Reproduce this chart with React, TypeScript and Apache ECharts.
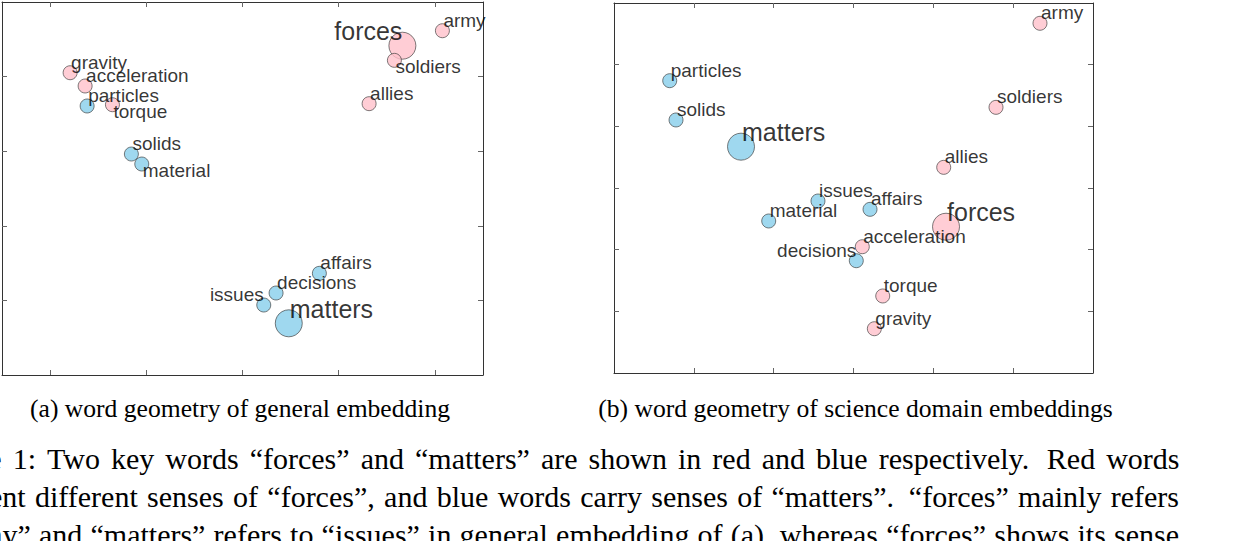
import React, { useEffect, useRef } from "react";
import * as echarts from "echarts";

// ---------------- data ----------------
const words = [
  "forces", "army", "soldiers", "allies", "gravity", "acceleration", "torque",
  "matters", "issues", "decisions", "affairs", "particles", "solids", "material",
];
const senseOf = [
  "forces", "forces", "forces", "forces", "forces", "forces", "forces",
  "matters", "matters", "matters", "matters", "matters", "matters", "matters",
];
const keyWords = ["forces", "matters"];

// (a) general embedding
const generalX = [3.662, 4.078, 3.579, 3.316, 0.208, 0.364, 0.648, 2.481, 2.221, 2.349, 2.799, 0.385, 0.845, 0.953];
const generalY = [4.414, 4.615, 4.218, 3.637, 4.052, 3.874, 3.623, 0.693, 0.938, 1.099, 1.363, 3.606, 2.962, 2.828];
// (b) science domain embeddings
const scienceX = [4.159, 5.336, 4.785, 4.13, 3.261, 3.11, 3.366, 1.591, 2.555, 3.035, 3.207, 0.698, 0.777, 1.938];
const scienceY = [2.372, 5.671, 4.308, 3.335, 0.718, 2.048, 1.249, 3.67, 2.789, 1.821, 2.654, 4.74, 4.103, 2.465];

const generalRangeX = [-0.5, 4.5];
const generalRangeY = [0, 5];
const generalTicksX = [0, 1, 2, 3, 4];
const generalTicksY = [1, 2, 3, 4];
const scienceRangeX = [0, 6];
const scienceRangeY = [0, 6];
const scienceTicksX = [1, 2, 3, 4, 5];
const scienceTicksY = [1, 2, 3, 4, 5];

const captionA = "(a) word geometry of general embedding";
const captionB = "(b) word geometry of science domain embeddings";

const bodyLine1 = ["Figure", "1:", "Two", "key", "words", "“forces”", "and", "“matters”", "are", "shown", "in", "red", "and", "blue", "respectively.", "Red", "words"];
const bodyLine2 = ["represent", "different", "senses", "of", "“forces”,", "and", "blue", "words", "carry", "senses", "of", "“matters”.", "“forces”", "mainly", "refers"];
const bodyLine3 = ["“army”", "and", "“matters”", "refers", "to", "“issues”", "in", "general", "embedding", "of", "(a),", "whereas", "“forces”", "shows", "its", "sense"];

// ---------------- styling (label placement per plot) ----------------
const generalLabelLeft = ["forces", "issues"];
const generalLabelBelow = ["torque", "soldiers", "material"];
const scienceLabelLeft = ["decisions"];
const scienceLabelBelow: string[] = [];

const PINK = "#FFC0CB";
const BLUE = "#87CEEB";
const SANS = "'Liberation Sans', Arial, Helvetica, sans-serif";
const SERIF = "'Liberation Serif', 'Times New Roman', serif";

function buildData(xs: number[], ys: number[], leftSet: string[], belowSet: string[]) {
  return words.map((w, i) => {
    const isKey = keyWords.includes(w);
    const below = belowSet.includes(w);
    const toLeft = leftSet.includes(w);
    return {
      value: [xs[i], ys[i]],
      symbolSize: isKey ? 27 : 14,
      itemStyle: {
        color: senseOf[i] === "forces" ? PINK : BLUE,
        borderColor: "#333",
        borderWidth: 0.8,
      },
      label: {
        show: true,
        formatter: w,
        position: ["50%", "50%"],
        align: toLeft ? "right" : "left",
        verticalAlign: below ? "top" : "bottom",
        offset: [toLeft ? 0 : 1, below ? -3 : isKey ? -2 : -1],
        fontSize: isKey ? 25 : 19,
        fontFamily: SANS,
        color: "#000",
      },
    };
  });
}

function axis(kind: "x" | "y", gridIndex: number, position: string, range: number[], ticks: number[]) {
  return {
    type: "value",
    gridIndex,
    position,
    min: range[0],
    max: range[1],
    axisLine: { show: true, onZero: false, lineStyle: { color: "#333", width: 1 } },
    axisTick: { show: true, inside: true, length: 5, customValues: ticks, lineStyle: { color: "#666", width: 1 } },
    axisLabel: { show: false },
    splitLine: { show: false },
  };
}

let measureCtx: CanvasRenderingContext2D | null = null;
function measure(text: string, font: string) {
  if (!measureCtx) measureCtx = document.createElement("canvas").getContext("2d");
  measureCtx!.font = font;
  return measureCtx!.measureText(text).width;
}

function justifyLine(lineWords: string[], anchorIndex: number, anchorX: number, endX: number, y: number, fontSize: number) {
  const font = `${fontSize}px ${SERIF}`;
  const widths = lineWords.map((w) => measure(w, font));
  const weight = (w: string) => (/\.”?$/.test(w) ? 1.6 : 1);
  let natural = 0;
  let totalWeight = 0;
  for (let k = anchorIndex; k < lineWords.length; k++) {
    natural += widths[k];
    if (k < lineWords.length - 1) totalWeight += weight(lineWords[k]);
  }
  const gap = (endX - anchorX - natural) / totalWeight;
  const xs: number[] = new Array(lineWords.length);
  xs[anchorIndex] = anchorX;
  for (let k = anchorIndex; k < lineWords.length - 1; k++) {
    xs[k + 1] = xs[k] + widths[k] + gap * weight(lineWords[k]);
  }
  for (let k = anchorIndex; k > 0; k--) {
    xs[k - 1] = xs[k] - gap * weight(lineWords[k - 1]) - widths[k - 1];
  }
  return lineWords.map((w, k) => ({
    type: "text",
    x: xs[k],
    y,
    silent: true,
    style: { text: w, font, fill: "#000", align: "left", verticalAlign: "middle", textAlign: "left", textVerticalAlign: "middle" },
  }));
}

function buildOption() {
  const captionFont = `25.6px ${SERIF}`;
  const graphics: any[] = [
    {
      type: "text",
      x: 240,
      y: 408.4,
      silent: true,
      style: { text: captionA, font: captionFont, fill: "#000", align: "center", verticalAlign: "middle", textAlign: "center", textVerticalAlign: "middle" },
    },
    {
      type: "text",
      x: 855.5,
      y: 408.4,
      silent: true,
      style: { text: captionB, font: captionFont, fill: "#000", align: "center", verticalAlign: "middle", textAlign: "center", textVerticalAlign: "middle" },
    },
    ...justifyLine(bodyLine1, 1, 12.7, 1179.5, 458.2, 30),
    ...justifyLine(bodyLine2, 1, 35, 1179, 496.6, 30),
    ...justifyLine(bodyLine3, 1, 39, 1179, 534.6, 30),
  ];

  return {
    animation: false,
    backgroundColor: "#fff",
    grid: [
      { left: 2, top: 2, width: 481, height: 373, show: false },
      { left: 614, top: 3, width: 479, height: 370, show: false },
    ],
    xAxis: [
      axis("x", 0, "bottom", generalRangeX, generalTicksX),
      axis("x", 0, "top", generalRangeX, generalTicksX),
      axis("x", 1, "bottom", scienceRangeX, scienceTicksX),
      axis("x", 1, "top", scienceRangeX, scienceTicksX),
    ],
    yAxis: [
      axis("y", 0, "left", generalRangeY, generalTicksY),
      axis("y", 0, "right", generalRangeY, generalTicksY),
      axis("y", 1, "left", scienceRangeY, scienceTicksY),
      axis("y", 1, "right", scienceRangeY, scienceTicksY),
    ],
    series: [
      {
        type: "scatter",
        xAxisIndex: 0,
        yAxisIndex: 0,
        symbol: "circle",
        silent: true,
        emphasis: { disabled: true },
        data: buildData(generalX, generalY, generalLabelLeft, generalLabelBelow),
      },
      {
        type: "scatter",
        xAxisIndex: 2,
        yAxisIndex: 2,
        symbol: "circle",
        silent: true,
        emphasis: { disabled: true },
        data: buildData(scienceX, scienceY, scienceLabelLeft, scienceLabelBelow),
      },
    ],
    graphic: graphics,
  };
}

export default function App() {
  const ref = useRef<HTMLDivElement>(null);
  useEffect(() => {
    const el = ref.current!;
    const chart = echarts.init(el, null, { renderer: "svg", width: 1243, height: 541 });
    chart.setOption(buildOption() as any);
    return () => chart.dispose();
  }, []);
  return (
    <div
      ref={ref}
      style={{ position: "fixed", left: 0, top: 0, width: 1243, height: 541, overflow: "hidden", background: "#fff" }}
    />
  );
}
